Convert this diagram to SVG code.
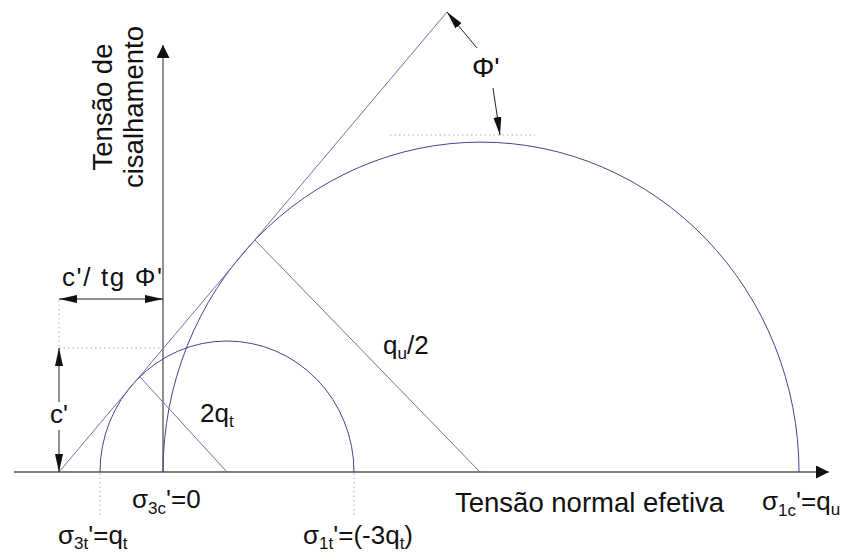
<svg xmlns="http://www.w3.org/2000/svg" width="842" height="558" viewBox="0 0 842 558">
<style>
text{font-family:"Liberation Sans",Arial,sans-serif;font-size:26px;fill:#111}
.sub{font-size:17px}
.axis{stroke:#555;stroke-width:1.3;fill:none}
.curve{stroke:#44448f;stroke-width:1;fill:none}
.thin{stroke:#7070a8;stroke-width:1;fill:none}
.dim{stroke:#222;stroke-width:1;fill:none}
.dot{stroke:#aaa;stroke-width:1;stroke-dasharray:1.5,3;fill:none}
</style>
<defs>
<marker id="ax" viewBox="0 0 13 13" refX="13" refY="6.5" markerWidth="13" markerHeight="13" markerUnits="userSpaceOnUse" orient="auto-start-reverse"><path d="M0,0 L13,6.5 L0,13 Z" fill="#111"/></marker>
<marker id="sl" viewBox="0 0 18 8" refX="18" refY="4" markerWidth="18" markerHeight="8" markerUnits="userSpaceOnUse" orient="auto-start-reverse"><path d="M0,0 L18,4 L0,8 Z" fill="#111"/></marker>
</defs>
<g id="axes">
<line class="axis" x1="14" y1="472" x2="829" y2="472" marker-end="url(#ax)"/>
<line class="axis" x1="163" y1="472" x2="163" y2="45" marker-end="url(#ax)"/>
</g>
<g id="circles">
<path id="big-circle" class="curve" d="M163,472 A318,330 0 0 1 799,472"/>
<path id="small-circle" class="curve" d="M100,472 A127,131 0 0 1 354,472"/>
</g>
<g id="connectors">
<line id="envelope" class="thin" x1="59" y1="472" x2="447" y2="12"/>
<line id="radius-big" class="thin" x1="255" y1="240" x2="480" y2="472"/>
<line id="radius-small" class="thin" x1="140" y1="377" x2="227" y2="472"/>
<line class="dot" x1="100" y1="473" x2="100" y2="515"/>
<line class="dot" x1="354" y1="473" x2="354" y2="515"/>
<line class="dot" x1="390" y1="135" x2="535" y2="135"/>
<line class="dot" x1="59" y1="348" x2="163" y2="348"/>
<line class="dot" x1="59" y1="300" x2="59" y2="348"/>
<line class="dim" x1="477" y1="48" x2="447" y2="12" marker-end="url(#sl)"/>
<line class="dim" x1="493" y1="88" x2="500" y2="135" marker-end="url(#sl)"/>
<line class="dim" x1="59" y1="299" x2="163" y2="299" marker-start="url(#sl)" marker-end="url(#sl)"/>
<line class="dim" x1="59" y1="402" x2="59" y2="348" marker-end="url(#sl)"/>
<line class="dim" x1="59" y1="430" x2="59" y2="472" marker-end="url(#sl)"/>
</g>
<g id="labels">
<text id="y-label" transform="translate(112,107) rotate(-90)" text-anchor="middle" style="font-size:27.5px">Tensão de<tspan x="0" dy="31">cisalhamento</tspan></text>
<text id="x-label" x="455" y="512" style="font-size:27.5px">Tensão normal efetiva</text>
<text id="phi" x="472" y="77" style="font-size:28px">Φ'</text>
<text id="c-tg" x="62" y="286" textLength="100">c'/ tg Φ'</text>
<text id="c" x="50" y="423">c'</text>
<text id="qu2" x="383" y="354">q<tspan class="sub" dy="5">u</tspan><tspan dy="-5">/2</tspan></text>
<text id="2qt" x="200" y="422">2q<tspan class="sub" dy="5">t</tspan></text>
<text id="s3c" x="132" y="508">σ<tspan class="sub" dy="6">3c</tspan><tspan dy="-6">'=0</tspan></text>
<text id="s3t" x="58" y="544">σ<tspan class="sub" dy="5">3t</tspan><tspan dy="-5">'=q</tspan><tspan class="sub" dy="5">t</tspan></text>
<text id="s1t" x="303" y="544">σ<tspan class="sub" dy="5">1t</tspan><tspan dy="-5">'=(-3q</tspan><tspan class="sub" dy="5">t</tspan><tspan dy="-5">)</tspan></text>
<text id="s1c" x="762" y="510">σ<tspan class="sub" dy="6">1c</tspan><tspan dy="-6">'=q</tspan><tspan class="sub" dy="5">u</tspan></text>
</g>
</svg>
